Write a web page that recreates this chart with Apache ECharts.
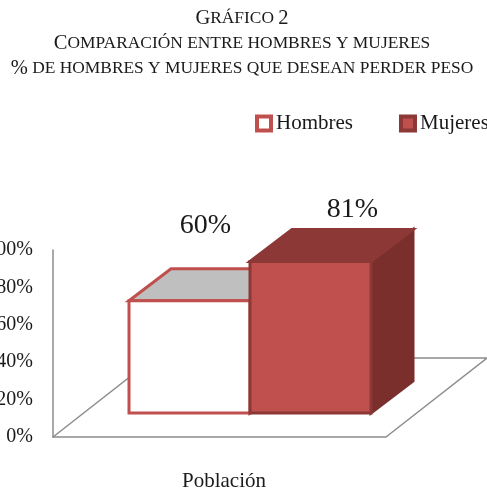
<!DOCTYPE html>
<html><head><meta charset="utf-8">
<style>html,body{margin:0;padding:0;background:#fff}#c{width:487px;height:489px}</style>
<script src="https://cdn.jsdelivr.net/npm/echarts@6/dist/echarts.min.js"></script>
</head><body><div id="c"></div>
<script>
const categories = ['Población'];
const hombres = [60];
const mujeres = [81];
const yTicks = [0, 20, 40, 60, 80, 100];
const seriesNames = ['Hombres', 'Mujeres'];

const SERIF = '"Liberation Serif","Times New Roman",serif';
const DEPTH = [42, 32], FLOOR_DEPTH = [101, 79], BAR_RATIO = 121 / 333;
const INK = '#1a1a1a', AXIS = '#8c8c8c';

function barRenderer(slot, st, nudge) {
  return function (params, api) {
    const top = api.coord([api.value(0), api.value(1)]);
    const base = api.coord([api.value(0), 0]);
    const w = api.size([1, 0])[0] * BAR_RATIO;
    const x0 = top[0] + (slot - 1) * w, x1 = x0 + w, yT = top[1], yB = base[1];
    const [dx, dy] = DEPTH;
    const poly = (points, fill, stroke) => ({ type: 'polygon', shape: { points },
      style: { fill, stroke, lineWidth: st.lw, lineJoin: 'miter' } });
    return { type: 'group', children: [
      poly([[x1, yT], [x1 + dx, yT - dy], [x1 + dx, yB - dy], [x1, yB]], st.side, st.sideStroke),
      poly([[x0, yT], [x0 + dx, yT - dy], [x1 + dx, yT - dy], [x1, yT]], st.top, st.stroke),
      poly([[x0, yT], [x1, yT], [x1, yB], [x0, yB]], st.front, st.stroke),
      { type: 'text', style: { text: api.value(1) + '%', x: (x0 + x1) / 2 + nudge[0], y: yT + nudge[1],
        font: '28px ' + SERIF, fill: INK, align: 'center', verticalAlign: 'middle' } }
    ]};
  };
}

const small = (s) => '{s|' + s + '}';
const big = (s) => '{b|' + s + '}';

const chart = echarts.init(document.getElementById('c'), null, { renderer: 'canvas' });
chart.setOption({
  animation: false,
  backgroundColor: '#fff',
  title: {
    left: 237, top: 1, textAlign: 'center',
    text: [
      big('G') + small('RÁFICO ') + big('2'),
      big('C') + small('OMPARACIÓN ENTRE HOMBRES Y MUJERES'),
      big('%') + small(' DE HOMBRES Y MUJERES QUE DESEAN PERDER PESO')
    ].join('\n'),
    textStyle: { fontWeight: 'normal', rich: {
      b: { fontFamily: SERIF, fontSize: 20.5, fontWeight: 'normal', color: INK, lineHeight: 25 },
      s: { fontFamily: SERIF, fontSize: 17.4, fontWeight: 'normal', color: INK, lineHeight: 25 }
    } }
  },
  legend: {
    orient: 'horizontal', left: 255, top: 113, padding: 0, width: 300, itemWidth: 14, itemHeight: 14, itemGap: 46, icon: 'rect',
    textStyle: { fontFamily: SERIF, fontSize: 21, color: INK },
    data: [
      { name: seriesNames[0], itemStyle: { color: '#fff', borderColor: '#c0504d', borderWidth: 4 } },
      { name: seriesNames[1], itemStyle: { color: '#c0504d', borderColor: '#8c3836', borderWidth: 4 } }
    ]
  },
  grid: [
    { left: 53, top: 250, width: 333, height: 187, outerBoundsMode: 'none' },
    { left: 83.5, top: 226, width: 333, height: 187, outerBoundsMode: 'none' }
  ],
  xAxis: [
    { gridIndex: 0, type: 'category', data: categories,
      axisLine: { lineStyle: { color: AXIS, width: 1.5 } }, axisTick: { show: false },
      axisLabel: { fontFamily: SERIF, fontSize: 21, color: INK, margin: 34, padding: [0, 0, 0, 9] } },
    { gridIndex: 1, type: 'category', data: categories, show: false }
  ],
  yAxis: [
    { gridIndex: 0, type: 'value', min: yTicks[0], max: yTicks[yTicks.length - 1], interval: yTicks[1] - yTicks[0],
      axisLine: { show: true, lineStyle: { color: AXIS, width: 1.5 } }, axisTick: { show: false }, splitLine: { show: false },
      axisLabel: { fontFamily: SERIF, fontSize: 20, color: INK, margin: 20, padding: [2, 0, 0, 0], formatter: '{value}%' } },
    { gridIndex: 1, type: 'value', min: yTicks[0], max: yTicks[yTicks.length - 1], show: false, splitLine: { show: false } }
  ],
  series: [
    { type: 'custom', name: 'suelo', xAxisIndex: 0, yAxisIndex: 0, silent: true, z: 1,
      data: [[0, 0]], clip: false,
      renderItem(params, api) {
        const p = api.coord([0, 0]);
        const half = api.size([1, 0])[0] / 2;
        const [dx, dy] = FLOOR_DEPTH;
        const a = [p[0] - half, p[1]], b = [p[0] + half, p[1]];
        return { type: 'polyline', shape: { points: [a, [a[0] + dx, a[1] - dy], [b[0] + dx, b[1] - dy], b] },
          style: { fill: 'none', stroke: AXIS, lineWidth: 1.5 } };
      } },
    { type: 'custom', name: seriesNames[0], xAxisIndex: 1, yAxisIndex: 1, z: 2, clip: false,
      encode: { x: 0, y: 1 }, data: hombres.map((v, i) => [i, v]),
      itemStyle: { color: '#fff' },
      renderItem: barRenderer(0, { lw: 3, front: '#fff', top: '#bfbfbf', side: '#bfbfbf',
        stroke: '#c0504d', sideStroke: '#c0504d' }, [16, -75]) },
    { type: 'custom', name: seriesNames[1], xAxisIndex: 1, yAxisIndex: 1, z: 3, clip: false,
      encode: { x: 0, y: 1 }, data: mujeres.map((v, i) => [i, v]),
      itemStyle: { color: '#c0504d' },
      renderItem: barRenderer(1, { lw: 3, front: '#c0504d', top: '#8c3836', side: '#7a2f2d',
        stroke: '#8c3836', sideStroke: '#7a2f2d' }, [42, -52]) }
  ]
});
</script></body></html>
